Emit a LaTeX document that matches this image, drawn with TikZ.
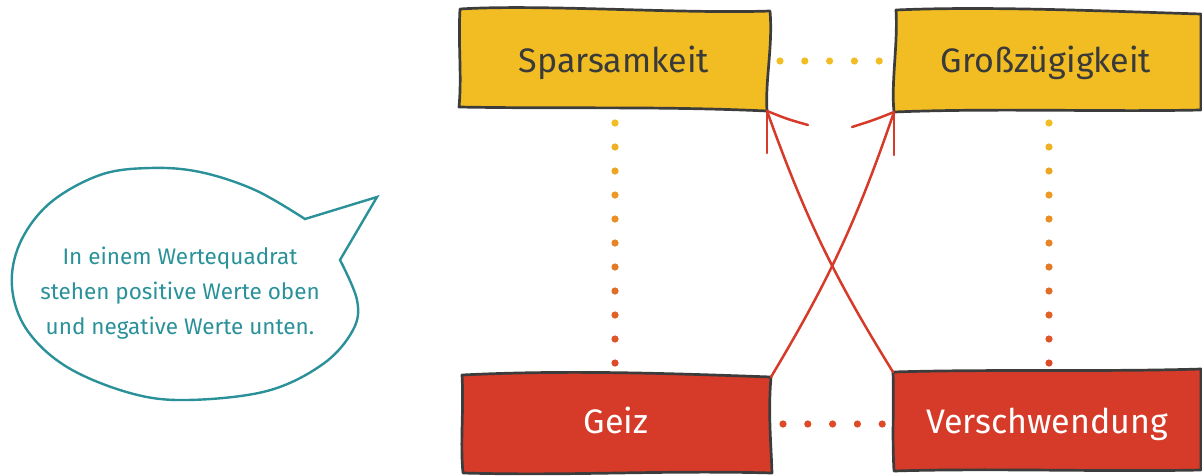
\documentclass[tikz,border=0pt]{standalone}
\usepackage{fontspec}
\setmainfont{Fira Sans}
\newfontfamily\handfont{Fira Sans}
\definecolor{yelc}{HTML}{F1BD22}
\definecolor{redc}{HTML}{D63A28}
\definecolor{dotred}{HTML}{DC4A28}
\definecolor{outc}{HTML}{3C3C3C}
\definecolor{tealc}{HTML}{2A9199}
\definecolor{txtc}{HTML}{3A3A3A}
\tikzset{
  boxline/.style={draw=outc, line width=2.7pt, line join=round},
  boxtext/.style={font=\handfont\fontsize{34}{38}\selectfont, inner sep=0pt, anchor=base},
  arrowc/.style={draw=redc, line width=2.5pt, line cap=round},
  bubble/.style={draw=tealc, line width=2.4pt, line join=miter},
  btext/.style={font=\fontsize{22.5}{35}\selectfont, text=tealc, align=center, inner sep=0pt}
}
\begin{document}
\begin{tikzpicture}[x=1pt,y=-1pt]
\useasboundingbox (0,0) rectangle (1202,475);
% corners
\coordinate (sTL) at (460,9);   \coordinate (sTR) at (770,11);
\coordinate (sBR) at (767,111); \coordinate (sBL) at (459,107);
\coordinate (gTL) at (896,10);  \coordinate (gTR) at (1201,14);
\coordinate (gBR) at (1201,110);\coordinate (gBL) at (894,112);
\coordinate (zTL) at (462,375); \coordinate (zTR) at (771,377);
\coordinate (zBR) at (772,473); \coordinate (zBL) at (463,473);
\coordinate (vTL) at (893,372); \coordinate (vTR) at (1201,369);
\coordinate (vBR) at (1201,470);\coordinate (vBL) at (894,471);
% boxes
\path[boxline, fill=yelc] (sTL) .. controls +(80,-5) and +(-90,3) .. (sTR)
  .. controls +(3,35) and +(-2,-30) .. (sBR)
  .. controls +(-110,-5) and +(110,2) .. (sBL)
  .. controls +(3,-30) and +(-2,35) .. cycle;
\path[boxline, fill=yelc] (gTL) .. controls +(90,-4) and +(-100,-3) .. (gTR)
  -- (gBR)
  .. controls +(-100,2) and +(100,-4) .. (gBL)
  .. controls +(-3,-30) and +(2,35) .. cycle;
\path[boxline, fill=redc] (zTL) .. controls +(100,-5) and +(-110,-4) .. (zTR)
  .. controls +(-3,35) and +(-1,-30) .. (zBR)
  .. controls +(-110,-3) and +(110,3) .. (zBL)
  .. controls +(-3,-30) and +(2,35) .. cycle;
\path[boxline, fill=redc] (vTL) .. controls +(100,-3) and +(-100,3) .. (vTR)
  -- (vBR)
  .. controls +(-100,2) and +(100,-3) .. (vBL)
  .. controls +(-2,-35) and +(1,35) .. cycle;
% texts
\node[boxtext, text=txtc] (spar) at (614,72) {Sparsamkeit};
\node[boxtext, text=txtc] (gross) at (1046,72) {Großzügigkeit};
\node[boxtext, text=white] (geiz) at (616,433) {Geiz};
\node[boxtext, text=white] (versch) at (1047,433) {Verschwendung};
% dotted links
\foreach \i in {0,...,4}{
  \fill[yelc] (780+24.8*\i,61) circle (3.6);
  \fill[dotred] (783+24.8*\i,424) circle (3.6);
}
\foreach \i in {0,...,10}{
  \pgfmathtruncatemacro{\p}{100-10*\i}
  \fill[yelc!\p!dotred] (615,123+24*\i) circle (3.6);
  \fill[yelc!\p!dotred] (1049,123+24*\i) circle (3.6);
}
% crossing arrows
\draw[arrowc] (vTL) to[bend left=6] (sBR);
\draw[arrowc] (zTR) to[bend right=6] (gBL);
\draw[arrowc] (sBR) .. controls +(0,15) .. ++(0,42);
\draw[arrowc] (sBR) .. controls +(20,8) .. ++(41,14);
\draw[arrowc] (gBL) .. controls +(0,15) .. ++(0,43);
\draw[arrowc] (gBL) .. controls +(-20,8) .. ++(-42,15);
% speech bubble
\coordinate (tipA) at (305,219);
\coordinate (tip) at (377,197);
\coordinate (tipB) at (340,260);
\draw[bubble] plot[smooth, tension=0.6] coordinates {(340,260) (357,300) (353,330) (323,364) (267,391) (187,400) (130,393) (67,367) (27,330) (12,287) (20,243) (50,203) (100,175) (150,168) (200,172) (255,190) (305,219)} -- (tip) -- cycle;
\node[btext] (note) at (180,293) {In einem Wertequadrat\\stehen positive Werte oben\\und negative Werte unten.};
\end{tikzpicture}
\end{document}
